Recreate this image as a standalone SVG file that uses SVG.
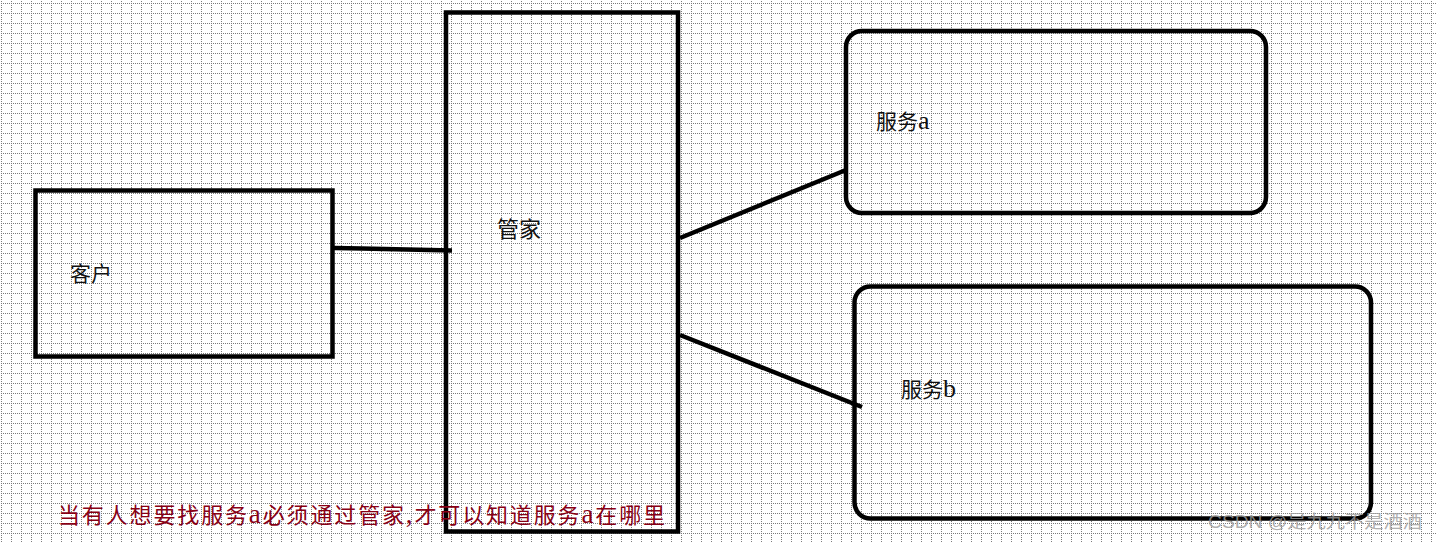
<svg xmlns="http://www.w3.org/2000/svg" width="1437" height="542" viewBox="0 0 1437 542">
<style>
.box{fill:none;stroke:#000;stroke-width:4.5;stroke-linejoin:miter}
.rbox{fill:none;stroke:#000;stroke-width:4.5}
.lbl{font-family:"Liberation Serif","Noto Sans CJK SC",serif;font-size:21px;fill:#111}
.lat{font-size:26px}
.conn{fill:none;stroke:#000;stroke-width:4.5;stroke-linecap:butt}
</style>
<defs>
<pattern id="grid" width="10" height="10" patternUnits="userSpaceOnUse" x="1" y="3">
<path d="M0.5 0V10M0 0.5H10" stroke="#7a7a7a" stroke-width="1" stroke-dasharray="1 1" fill="none"/>
</pattern>
</defs>
<rect width="1437" height="542" fill="#fff"/>
<rect width="1437" height="542" fill="url(#grid)"/>
<g id="connectors">
<polyline class="conn" points="334,248 362,248.5 452,250.5"/>
<line class="conn" x1="680" y1="238" x2="846" y2="170"/>
<line class="conn" x1="680" y1="335" x2="862" y2="407"/>
</g>
<g id="kehu">
<rect class="box" x="35.5" y="190.5" width="297" height="166"/>
<text class="lbl" x="70" y="281">客户</text>
</g>
<g id="guanjia">
<rect class="box" x="446" y="12.5" width="232" height="519"/>
<text class="lbl" x="497" y="237" style="font-size:22px">管家</text>
</g>
<g id="fuwu-a">
<rect class="rbox" x="846" y="31" width="420" height="182" rx="16"/>
<text class="lbl" x="876" y="129">服务<tspan class="lat">a</tspan></text>
</g>
<g id="fuwu-b">
<rect class="rbox" x="854.5" y="286.5" width="516.5" height="232" rx="16"/>
<text class="lbl" x="901" y="397">服务<tspan class="lat">b</tspan></text>
</g>
<g id="note">
<text x="58" y="523" textLength="607" lengthAdjust="spacing" style="font-family:'Liberation Serif','Noto Sans CJK SC',serif;font-size:22px;fill:#880015">当有人想要找服务<tspan style="font-size:27px">a</tspan>必须通过管家<tspan style="font-size:27px">,</tspan>才可以知道服务<tspan style="font-size:27px">a</tspan>在哪里</text>
</g>
<g id="watermark">
<text x="1208" y="528" textLength="214" lengthAdjust="spacingAndGlyphs" style="font-family:'Liberation Sans','Noto Sans CJK SC',sans-serif;font-size:18px;fill:#9a9a9a;fill-opacity:0.8">CSDN @是九九不是酒酒</text>
</g>
</svg>
